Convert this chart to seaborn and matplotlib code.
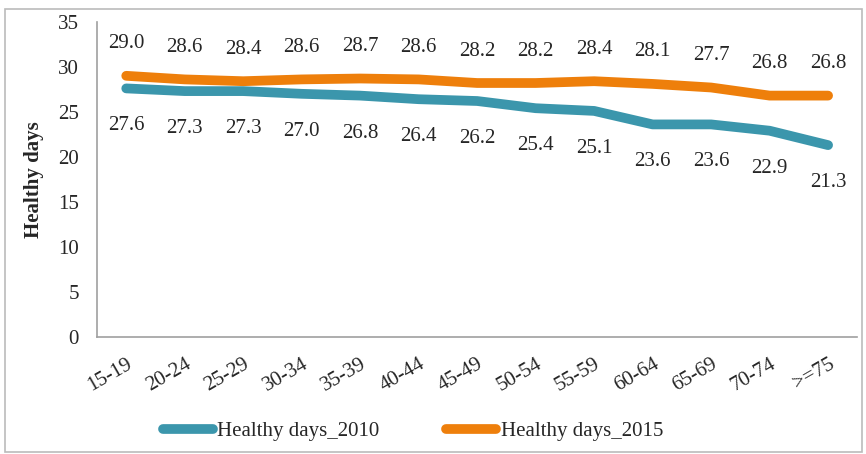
import matplotlib

matplotlib.use("Agg")
import matplotlib.pyplot as plt
import pandas as pd
import seaborn as sns
from matplotlib.patches import Rectangle
from matplotlib.lines import Line2D

AGE_GROUPS = ["15-19", "20-24", "25-29", "30-34", "35-39", "40-44", "45-49",
              "50-54", "55-59", "60-64", "65-69", "70-74", ">=75"]
DAYS_2010 = [27.6, 27.3, 27.3, 27.0, 26.8, 26.4, 26.2, 25.4, 25.1, 23.6, 23.6, 22.9, 21.3]
DAYS_2015 = [29.0, 28.6, 28.4, 28.6, 28.7, 28.6, 28.2, 28.2, 28.4, 28.1, 27.7, 26.8, 26.8]
SERIES = ["Healthy days_2010", "Healthy days_2015"]
COLORS = ["#3B96AC", "#EE7F0B"]
FS = 15

sns.set_style("white")
plt.rcParams["font.family"] = ["Liberation Serif", "DejaVu Serif"]

df = pd.DataFrame({
    "age": list(range(len(AGE_GROUPS))) * 2,
    "days": DAYS_2010 + DAYS_2015,
    "series": [SERIES[0]] * len(AGE_GROUPS) + [SERIES[1]] * len(AGE_GROUPS),
})

fig = plt.figure(figsize=(8.66, 4.54), dpi=100)
ax = fig.add_axes([0.112, 0.258, 0.878, 0.694])

sns.lineplot(data=df, x="age", y="days", hue="series", palette=COLORS,
             linewidth=7, ax=ax, legend=False, solid_capstyle="round")

# value labels: 2010 below its line, 2015 above
for i, (a, b) in enumerate(zip(DAYS_2010, DAYS_2015)):
    ax.annotate(f"{a:.1f}", (i, a), xytext=(0, -27), textcoords="offset points",
                ha="center", va="center", fontsize=FS)
    ax.annotate(f"{b:.1f}", (i, b), xytext=(0, 23), textcoords="offset points",
                ha="center", va="center", fontsize=FS)

ax.set_xlim(-0.5, len(AGE_GROUPS) - 0.5)
ax.set_ylim(0, 35)
ax.set_yticks(range(0, 36, 5))
ax.set_xticks(range(len(AGE_GROUPS)))
ax.set_xticklabels(AGE_GROUPS, rotation=30, ha="right", rotation_mode="anchor")
ax.set_xticks([i - 0.5 for i in range(len(AGE_GROUPS) + 1)], minor=True)
ax.tick_params(axis="x", which="major", length=0, pad=13, labelsize=FS)
ax.tick_params(axis="x", which="minor", length=5, color="#A0A0A0", width=1.2)
ax.tick_params(axis="y", length=5, color="#A0A0A0", width=1.2, labelsize=FS, pad=8)
ax.set_xlabel("")
ax.set_ylabel("Healthy days", fontsize=FS, fontweight="bold", labelpad=10)

sns.despine(ax=ax)
for side in ["left", "bottom"]:
    ax.spines[side].set_color("#A0A0A0")
    ax.spines[side].set_linewidth(1.2)

handles = [Line2D([0], [0], color=c, linewidth=7, solid_capstyle="round") for c in COLORS]
fig.legend(handles, SERIES, loc="center", bbox_to_anchor=(0.477, 0.05), ncol=2,
           frameon=False, fontsize=FS, handlelength=2.4, handletextpad=0.2,
           columnspacing=3.2)

fig.patches.append(Rectangle((0.006, 0.004), 0.989, 0.976, transform=fig.transFigure,
                             fill=False, edgecolor="#BBBBBB", linewidth=1.2))

fig.savefig("out.png", dpi=100)
